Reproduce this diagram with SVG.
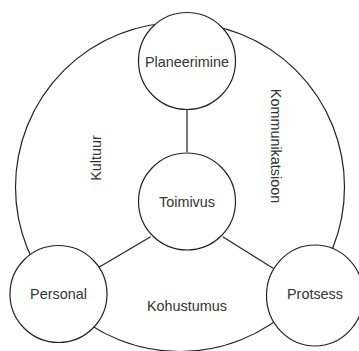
<svg xmlns="http://www.w3.org/2000/svg" width="359" height="351" viewBox="0 0 359 351">
  <style>
    .ring { fill: none; stroke: #222; stroke-width: 1.2; }
    .node { fill: #fff; stroke: #222; stroke-width: 1.2; }
    .edge { fill: none; stroke: #222; stroke-width: 1.2; }
    .label { font-family: "Liberation Sans", Arial, sans-serif; font-size: 14.4px; fill: #333; text-anchor: middle; dominant-baseline: central; }
  </style>
  <rect width="359" height="351" fill="#fff"/>

  <!-- outer ring with its sector labels -->
  <g id="ring">
    <circle class="ring" cx="180" cy="187" r="164.5"/>
    <text class="label" transform="translate(96,158) rotate(-90)">Kultuur</text>
    <text class="label" transform="translate(276,146) rotate(90)">Kommunikatsioon</text>
    <text class="label" x="187" y="306">Kohustumus</text>
  </g>

  <!-- connectors -->
  <g id="connectors">
    <line class="edge" x1="187" y1="110" x2="187" y2="152"/>
    <line class="edge" x1="150.7" y1="236.7" x2="98.5" y2="267.5"/>
    <line class="edge" x1="222.7" y1="236.7" x2="273.5" y2="268.5"/>
  </g>

  <g id="planeerimine">
    <circle class="node" cx="187" cy="61" r="48.5"/>
    <text class="label" x="187" y="61.5">Planeerimine</text>
  </g>

  <g id="toimivus">
    <circle class="node" cx="187" cy="201.5" r="48.5"/>
    <text class="label" x="187" y="202">Toimivus</text>
  </g>

  <g id="personal">
    <circle class="node" cx="58.5" cy="294" r="48.5"/>
    <text class="label" x="58.5" y="294">Personal</text>
  </g>

  <g id="protsess">
    <ellipse class="node" cx="315" cy="295.5" rx="48.5" ry="50.5"/>
    <text class="label" x="315" y="294">Protsess</text>
  </g>
</svg>
